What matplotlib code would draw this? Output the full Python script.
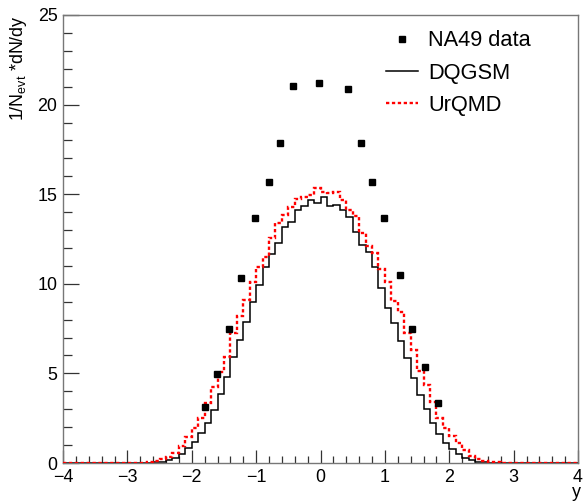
import numpy as np
import matplotlib
matplotlib.use("Agg")
import matplotlib.pyplot as plt
from matplotlib.ticker import MultipleLocator

plt.rcParams['font.family'] = ['Liberation Sans', 'DejaVu Sans']

# ---------------- data ----------------
bin_lo, bin_hi, n_bins = -4.0, 4.0, 80

# DQGSM histogram (bin width 0.1, from -4 to 4)
dqgsm_core = [0.01, 0.03, 0.07, 0.15, 0.29, 0.50, 0.83, 1.19, 1.66, 2.25,
              2.98, 3.85, 4.82, 5.90, 6.86, 7.89, 9.00, 9.93, 10.96, 11.66,
              12.26, 13.19, 13.47, 14.12, 14.33, 14.66, 14.49, 14.83, 14.32, 14.38,
              14.10, 13.70, 12.90, 12.17, 11.79, 10.96, 9.75, 8.63, 7.79, 6.83,
              5.84, 4.76, 3.79, 3.01, 2.21, 1.62, 1.10, 0.76, 0.50, 0.28,
              0.17, 0.08, 0.04, 0.02, 0.01]          # bins -2.7 .. 2.7
dqgsm = [0.0] * 13 + dqgsm_core + [0.0] * 12

# UrQMD histogram
urqmd_core = [0.01, 0.02, 0.05, 0.10, 0.20, 0.35, 0.57, 0.97, 1.47, 1.94,
              2.49, 3.33, 4.22, 5.10, 5.93, 7.24, 8.20, 9.10, 10.12, 10.92,
              11.48, 12.54, 13.37, 13.84, 14.31, 14.74, 14.85, 14.93, 15.33, 15.14,
              15.05, 15.12, 14.66, 14.14, 13.80, 12.86, 12.10, 11.70, 10.81, 10.12,
              9.05, 8.40, 7.24, 6.31, 5.15, 4.35, 3.42, 2.49, 1.94, 1.51,
              1.10, 0.73, 0.39, 0.22, 0.12, 0.06, 0.03, 0.01]   # bins -2.9 .. 2.8
urqmd = [0.0] * 11 + urqmd_core + [0.0] * 11

# NA49 data points
na49_y = [-1.79, -1.61, -1.42, -1.23, -1.01, -0.80, -0.63, -0.42, -0.02,
          0.42, 0.63, 0.80, 0.99, 1.23, 1.42, 1.63, 1.82]
na49_v = [3.14, 4.98, 7.48, 10.32, 13.69, 15.68, 17.84, 21.04, 21.19,
          20.87, 17.84, 15.68, 13.69, 10.49, 7.49, 5.34, 3.35]

labels = ["NA49 data", "DQGSM", "UrQMD"]
x_ticks = [-4, -3, -2, -1, 0, 1, 2, 3, 4]
y_ticks = [0, 5, 10, 15, 20, 25]

# ---------------- plot ----------------
W, H = 585, 501
fig = plt.figure(figsize=(W / 100, H / 100), dpi=100)
ax = fig.add_axes([63 / W, 38 / H, 515 / W, 448 / H])

edges = np.linspace(bin_lo, bin_hi, n_bins + 1)
ax.stairs(dqgsm, edges, color='black', lw=1.1, label=labels[1], zorder=2)
ax.stairs(urqmd, edges, color='#ff0000', lw=1.7, linestyle=(0, (1.4, 1.1)),
          label=labels[2], zorder=3)
ax.plot(na49_y, na49_v, 's', color='black', ms=5, ls='none',
        label=labels[0], zorder=4)

ax.set_xlim(-4, 4)
ax.set_ylim(0, 25)
ax.set_xticks(x_ticks)
ax.set_yticks(y_ticks)
ax.xaxis.set_minor_locator(MultipleLocator(0.2))
ax.yaxis.set_minor_locator(MultipleLocator(1))

ax.tick_params(axis='both', which='both', direction='in', top=False, right=False,
               labelsize=12.9, color='#333333', width=0.9)
ax.tick_params(axis='x', which='major', length=9.4, pad=4.5)
ax.tick_params(axis='x', which='minor', length=5)
ax.tick_params(axis='y', which='major', length=11.5, pad=4)
ax.tick_params(axis='y', which='minor', length=6.5)

for s in ax.spines.values():
    s.set_color('#777777')
    s.set_linewidth(1.0)

ax.set_xlabel('y', fontsize=12.9, loc='right', labelpad=-1.5)
ax.xaxis.label.set_x(1.006)
ax.set_ylabel(r'1/N$_{\mathregular{evt}}$ *dN/dy', fontsize=12.9, loc='top', labelpad=6)

handles, labs = ax.get_legend_handles_labels()
order = [labs.index(l) for l in labels]
leg = ax.legend([handles[i] for i in order], [labs[i] for i in order],
                loc='upper left', bbox_to_anchor=(0.627, 0.966), frameon=False,
                fontsize=15.7, handlelength=1.47, handletextpad=0.46,
                labelspacing=0.52, borderpad=0, borderaxespad=0, markerscale=0.75)

fig.savefig('out.png', dpi=100)
